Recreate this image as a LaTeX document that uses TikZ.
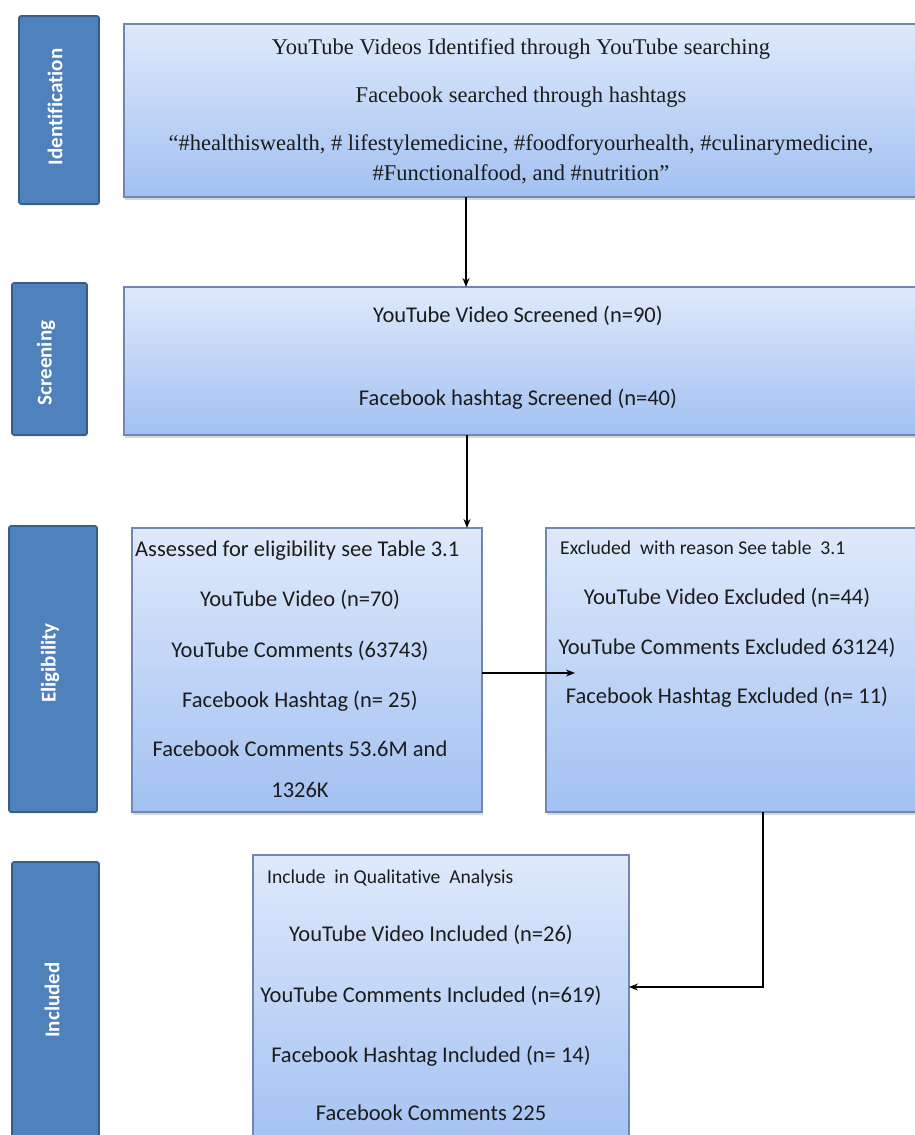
\documentclass[tikz,border=0pt]{standalone}
\usepackage{fontspec}
\setmainfont{Carlito}[Ligatures=NoCommon]
\newfontfamily\serifface{Liberation Serif}
\usetikzlibrary{arrows.meta,shadows}
\definecolor{tabfill}{HTML}{4F81BD}
\definecolor{tabborder}{HTML}{385D8A}
\definecolor{boxtop}{HTML}{DFE9FB}
\definecolor{boxbot}{HTML}{A2C1F2}
\definecolor{boxborder}{HTML}{7087B5}
\definecolor{txtcol}{HTML}{1C1C1C}
\tikzset{
  tabbox/.style={draw=tabborder, line width=1.6pt, fill=tabfill, rounded corners=2pt, outer sep=0pt,
    drop shadow={shadow xshift=1pt, shadow yshift=-1.5pt, opacity=0.18}},
  tablabel/.style={text=white, font=\bfseries\fontsize{21}{21}\selectfont, rotate=90, inner sep=0pt},
  flowbox/.style={draw=boxborder, line width=1.2pt, top color=boxtop, bottom color=boxbot, outer sep=0pt,
    drop shadow={shadow xshift=1pt, shadow yshift=-3pt, opacity=0.3}},
  bodytxt/.style={text=txtcol, font=\fontsize{22.5}{27}\selectfont, anchor=base, inner sep=0pt},
  smalltxt/.style={text=txtcol, font=\fontsize{19.6}{24}\selectfont, anchor=base west, inner sep=0pt},
  seriftxt/.style={text=txtcol, font=\serifface\fontsize{22.5}{30}\selectfont, inner sep=0pt},
  arr/.style={-{Stealth[length=9pt,width=7pt]}, line width=1.2pt, draw=black}
}
\begin{document}
\begin{tikzpicture}[x=1pt,y=-1pt]
\clip (0,0) rectangle (915,1135);
\fill[white] (0,0) rectangle (915,1135);

% stage tabs
\node[tabbox, minimum width=80, minimum height=188] (tid) at (59,110) {};
\node[tablabel] (tidl) at (55,107) {Identification};
\node[tabbox, minimum width=75, minimum height=152] (tsc) at (49.5,359) {};
\node[tablabel] (tscl) at (46,363) {Screening};
\node[tabbox, minimum width=88, minimum height=286] (tel) at (53,669) {};
\node[tablabel] (tell) at (50,663) {Eligibility};
\node[tabbox, minimum width=87, minimum height=288] (tin) at (55.5,1006) {};
\node[tablabel] (tinl) at (52,1000) {Included};

% boxes
\node[flowbox, minimum width=796, minimum height=173] (idb) at (522,110.5) {};
\node[flowbox, minimum width=796, minimum height=148] (scb) at (522,361) {};
\node[flowbox, minimum width=350, minimum height=284] (elb) at (307,670) {};
\node[flowbox, minimum width=374, minimum height=284] (exb) at (733,670) {};
\node[flowbox, minimum width=376, minimum height=295] (inb) at (441,1002.5) {};

% identification text
\node[seriftxt, anchor=base] (id1) at (521,54) {YouTube Videos Identified through YouTube searching};
\node[seriftxt, anchor=base] (id2) at (521,102) {Facebook searched through hashtags};
\node[seriftxt, anchor=base] (id3) at (521,150) {“\#healthiswealth, \# lifestylemedicine, \#foodforyourhealth, \#culinarymedicine,};
\node[seriftxt, anchor=base] (id4) at (521,180) {\#Functionalfood, and \#nutrition”};

% screening text
\node[bodytxt] (sc1) at (518,322) {YouTube Video Screened (n=90)};
\node[bodytxt] (sc2) at (518,405) {Facebook hashtag Screened (n=40)};

% eligibility text
\node[bodytxt, anchor=base west] (el0) at (135,556) {Assessed for eligibility see Table 3.1};
\node[bodytxt] (el1) at (300,606) {YouTube Video (n=70)};
\node[bodytxt] (el2) at (300,657) {YouTube Comments (63743)};
\node[bodytxt] (el3) at (300,707) {Facebook Hashtag (n= 25)};
\node[bodytxt] (el4) at (300,756) {Facebook Comments 53.6M and};
\node[bodytxt] (el5) at (300,797) {1326K};

% excluded text
\node[smalltxt] (ex0) at (560,554) {Excluded\ \ with reason See table\ \ 3.1};
\node[bodytxt] (ex1) at (727,604) {YouTube Video Excluded (n=44)};
\node[bodytxt] (ex2) at (727,654) {YouTube Comments Excluded 63124)};
\node[bodytxt] (ex3) at (727,703) {Facebook Hashtag Excluded (n= 11)};

% included text
\node[smalltxt] (in0) at (267,883) {Include\ \ in Qualitative\ \ Analysis};
\node[bodytxt] (in1) at (431,941) {YouTube Video Included (n=26)};
\node[bodytxt] (in2) at (431,1002) {YouTube Comments Included (n=619)};
\node[bodytxt] (in3) at (431,1062) {Facebook Hashtag Included (n= 14)};
\node[bodytxt] (in4) at (431,1120) {Facebook Comments 225};

% connectors
\coordinate (c1) at (466,0);
\coordinate (c2) at (467,0);
\coordinate (c3) at (575,673);
\coordinate (c4) at (763,987);
\draw[arr] (idb.south -| c1) -- (scb.north -| c1);
\draw[arr] (scb.south -| c2) -- (elb.north -| c2);
\draw[arr] (elb.east |- c3) -- (c3);
\draw[arr] (exb.south -| c4) |- (inb.east |- c4);
\end{tikzpicture}
\end{document}
